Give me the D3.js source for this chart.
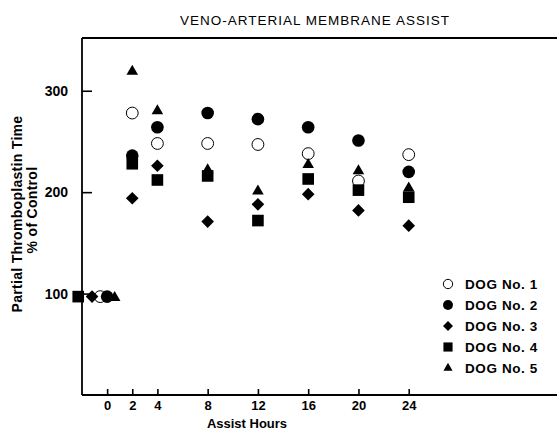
<!DOCTYPE html>
<html>
<head>
<meta charset="utf-8">
<script src="https://cdn.jsdelivr.net/npm/d3@7"></script>
<style>
  body { margin: 0; background: #fff; }
  text { font-family: "Liberation Sans", Arial, sans-serif; fill: #000; }
</style>
</head>
<body>
<div id="chart"></div>
<script>
//Datos
const hours = [2, 4, 8, 12, 16, 20, 24];
const dogs = ['DOG No. 1', 'DOG No. 2', 'DOG No. 3', 'DOG No. 4', 'DOG No. 5'];
const dog1 = [278, 248, 248, 247, 238, 211, 237];
const dog2 = [236, 264, 278, 272, 264, 251, 220];
const dog3 = [194, 226, 171, 188, 198, 182, 167];
const dog4 = [228, 212, 216, 172, 213, 202, 195];
const dog5 = [319, 280, 222, 201, 227, 221, 204];
//Control (antes de la asistencia), desplazado un poco en el eje para que se vean
const controlHours = [-0.55, 0, -1.2, -2.3, 0.6];
const controlValues = [97, 97, 97, 97, 96];
const xTicks = [0, 2, 4, 8, 12, 16, 20, 24];
const yTicks = [100, 200, 300];

let series = [dog1, dog2, dog3, dog4, dog5];

let margin = {top: 38, right: 0, bottom: 36, left: 82},
    width = 557 - margin.left - margin.right,
    height = 431 - margin.top - margin.bottom;

let svg = d3.select('#chart')
    .append('svg')
        .attr('width', width + margin.left + margin.right)
        .attr('height', height + margin.top + margin.bottom)
    .append('g')
        .attr('transform', 'translate(' + margin.left + ',' + margin.top + ')');

let x = d3.scaleLinear()
    .domain([-2, 35.8])
    .range([0, width]);

let y = d3.scaleLinear()
    .domain([0, 352])
    .range([height, 0]);

//Titulo
svg.append('text')
    .attr('x', 233)
    .attr('y', -13)
    .attr('text-anchor', 'middle')
    .style('font-size', '13.5px')
    .style('letter-spacing', '1px')
    .style('font-weight', '500')
    .text('VENO-ARTERIAL MEMBRANE ASSIST');

//Linea superior
svg.append('line')
    .attr('x1', 0).attr('x2', width)
    .attr('y1', 0).attr('y2', 0)
    .attr('stroke', '#000')
    .attr('stroke-width', 1.8);

// Eje X
let xAxis = function(g) {
    g.call(d3.axisBottom(x).tickValues(xTicks).tickSize(-6).tickPadding(6));
    g.call(function(g){ g.select('.domain').attr('d', 'M0,0H' + width).attr('stroke-width', 1.8); });
    g.call(function(g){ g.selectAll('.tick line').attr('stroke-width', 1.6); });
    g.call(function(g){ g.selectAll('.tick text').style('font-size', '13px').style('font-weight', 'bold'); });
}

svg.append('g')
    .attr('transform', 'translate(0,' + height + ')')
    .call(xAxis);

// Eje Y
let yAxis = function(g) {
    g.call(d3.axisLeft(y).tickValues(yTicks).tickSize(-10).tickPadding(14));
    g.call(function(g){ g.select('.domain').attr('d', 'M0,0V' + height).attr('stroke-width', 1.8); });
    g.call(function(g){ g.selectAll('.tick line').attr('stroke-width', 1.6); });
    g.call(function(g){ g.selectAll('.tick text').style('font-size', '14px').style('font-weight', 'bold'); });
}

svg.append('g')
    .attr('transform', 'translate(' + x(-2) + ',0)')
    .call(yAxis);

//Titulos de ejes
svg.append('text')
    .attr('x', 165)
    .attr('y', height + 33)
    .attr('text-anchor', 'middle')
    .style('font-size', '13px')
    .style('font-weight', 'bold')
    .text('Assist Hours');

svg.append('text')
    .attr('transform', 'translate(' + (-60) + ',' + 176 + ') rotate(-90)')
    .attr('text-anchor', 'middle')
    .style('font-size', '14px')
    .style('font-weight', 'bold')
    .style('letter-spacing', '0.3px')
    .text('Partial Thromboplastin Time');

svg.append('text')
    .attr('transform', 'translate(' + (-45) + ',' + 172 + ') rotate(-90)')
    .attr('text-anchor', 'middle')
    .style('font-size', '14px')
    .style('font-weight', 'bold')
    .style('letter-spacing', '0.3px')
    .text('% of Control');

//Simbolos
let symbols = [
    {type: d3.symbolCircle, size: 110, fill: '#fff', stroke: '#000', rotate: 0},
    {type: d3.symbolCircle, size: 125, fill: '#000', stroke: 'none', rotate: 0},
    {type: d3.symbolSquare, size: 80, fill: '#000', stroke: 'none', rotate: 45},
    {type: d3.symbolSquare, size: 135, fill: '#000', stroke: 'none', rotate: 0},
    {type: d3.symbolTriangle, size: 58, fill: '#000', stroke: 'none', rotate: 0}
];

function init() {
    let points = [];
    series.forEach(function(values, i) {
        points.push({dog: i, hour: controlHours[i], value: controlValues[i]});
        values.forEach(function(v, j) {
            points.push({dog: i, hour: hours[j], value: v});
        });
    });

    svg.append('g')
        .selectAll('path')
        .data(points)
        .enter()
        .append('path')
        .attr('d', function(d) { return d3.symbol().type(symbols[d.dog].type).size(symbols[d.dog].size)(); })
        .attr('transform', function(d) { return 'translate(' + x(d.hour) + ',' + y(d.value) + ') rotate(' + symbols[d.dog].rotate + ')'; })
        .attr('fill', function(d) { return symbols[d.dog].fill; })
        .attr('stroke', function(d) { return symbols[d.dog].stroke; })
        .attr('stroke-width', 1);

    //Leyenda
    let legend = svg.append('g')
        .attr('transform', 'translate(366,246)')
        .selectAll('g')
        .data(dogs)
        .enter()
        .append('g')
        .attr('transform', function(d, i) { return 'translate(0,' + (i * 21) + ')'; });

    legend.append('path')
        .attr('d', function(d, i) { return d3.symbol().type(symbols[i].type).size(symbols[i].size * 0.62)(); })
        .attr('transform', function(d, i) { return 'rotate(' + symbols[i].rotate + ')'; })
        .attr('fill', function(d, i) { return symbols[i].fill; })
        .attr('stroke', function(d, i) { return symbols[i].stroke; })
        .attr('stroke-width', 1);

    legend.append('text')
        .attr('x', 17)
        .attr('dy', '0.36em')
        .style('font-size', '13.5px')
        .style('font-weight', 'bold')
        .style('letter-spacing', '0.6px')
        .text(function(d) { return d; });
}

init();
</script>
</body>
</html>
